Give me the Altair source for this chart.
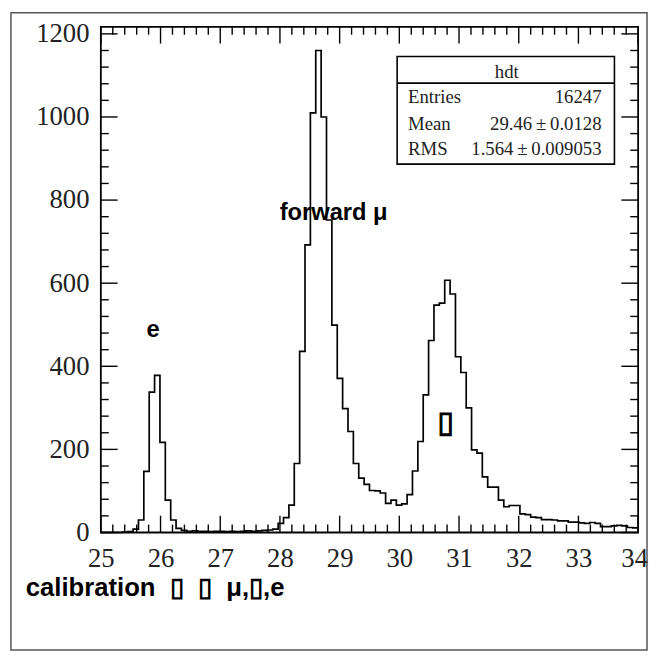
import altair as alt
import pandas as pd

# ---------------- data ----------------
x_lo, x_hi = 25.0, 34.0
n_bins = 100
counts = [
    0, 0, 0, 0, 1, 2, 8, 30, 147, 338,            # 0-9
    378, 217, 78, 30, 10, 5, 3, 4, 3, 3,          # 10-19
    2, 3, 3, 2, 3, 2, 3, 4, 3, 4,                 # 20-29
    5, 6, 8, 22, 36, 66, 166, 436, 692, 1010,     # 30-39
    1160, 1000, 752, 499, 371, 298, 243, 166, 131, 116,  # 40-49
    101, 100, 95, 70, 78, 66, 69, 91, 148, 219,   # 50-59
    331, 462, 547, 552, 607, 574, 423, 385, 300, 199,    # 60-69
    191, 134, 109, 109, 78, 62, 65, 65, 45, 43,   # 70-79
    37, 36, 31, 31, 30, 28, 28, 25, 25, 23,       # 80-89
    22, 24, 22, 14, 14, 16, 17, 16, 12, 11,       # 90-99
]
x_ticks = [25, 26, 27, 28, 29, 30, 31, 32, 33, 34]
y_ticks = [0, 200, 400, 600, 800, 1000, 1200]
y_max = 1217

stat_title = "hdt"
stat_names = ["Entries", "Mean", "RMS"]
stat_values = ["16247", "29.46\u2009\u00b1\u20090.0128", "1.564\u2009\u00b1\u20090.009053"]

annot_text = ["forward \u03bc", "e", "\u25af"]
annot_x = [27.995, 25.877, 30.77]
annot_y = [752, 470, 263]
caption = "calibration\u00a0 \u25af\u00a0 \u25af\u00a0 \u03bc,\u25af,e"

# ---------------- tables ----------------
bin_w = (x_hi - x_lo) / n_bins
edges = [x_lo + i * bin_w for i in range(n_bins)] + [x_hi]
hist_df = pd.DataFrame({"x": edges, "n": counts + [counts[-1]]})

xt_major = pd.DataFrame({"t": x_ticks})
xt_minor = pd.DataFrame({"t": [x_lo + 0.2 * i for i in range(46) if i % 5 != 0]})
yt_major = pd.DataFrame({"t": y_ticks})
yt_minor = pd.DataFrame({"t": [40 * i for i in range(31) if i % 5 != 0]})

W, H = 544, 512
MAJ, MIN = 17, 8

xscale = alt.Scale(domain=[x_lo, x_hi], nice=False, zero=False)
yscale = alt.Scale(domain=[0, y_max], nice=False)

xaxis = alt.Axis(values=x_ticks, ticks=False, domain=False, grid=False,
                 labelFont="Liberation Serif", labelFontSize=27, labelColor="#222",
                 labelPadding=13, labelFlush=False, labelOverlap=False,
                 labelOffset={"condition": {"test": "datum.value == 34", "value": -4},
                              "value": 0},
                 title="", format="d")
yaxis = alt.Axis(values=y_ticks, ticks=False, domain=False, grid=False,
                 labelFont="Liberation Serif", labelFontSize=27, labelColor="#222",
                 labelPadding=12, labelFlush=False, labelOverlap=False,
                 title="", format="d")

hist = alt.Chart(hist_df).mark_line(
    interpolate="step-after", color="black", strokeWidth=1.7
).encode(
    x=alt.X("x:Q", scale=xscale, axis=xaxis),
    y=alt.Y("n:Q", scale=yscale, axis=yaxis),
)


def xrule(df, y0, y1):
    return alt.Chart(df).mark_rule(color="black", strokeWidth=1.4).encode(
        x=alt.X("t:Q", scale=xscale, axis=xaxis), y=alt.value(y0), y2=alt.value(y1))


def yrule(df, x0, x1):
    return alt.Chart(df).mark_rule(color="black", strokeWidth=1.4).encode(
        y=alt.Y("t:Q", scale=yscale, axis=yaxis), x=alt.value(x0), x2=alt.value(x1))


ticks = [
    xrule(xt_major, H, H - MAJ), xrule(xt_minor, H, H - MIN),
    xrule(xt_major, 0, MAJ), xrule(xt_minor, 0, MIN),
    yrule(yt_major, 0, MAJ), yrule(yt_minor, 0, MIN),
    yrule(yt_major, W, W - MAJ), yrule(yt_minor, W, W - MIN),
]

one = pd.DataFrame({"a": [0]})

# stats box
bx0, bx1, by0, by1, bhead = 300, 520, 30, 139, 57
box = alt.Chart(one).mark_rect(fill="white", stroke="black", strokeWidth=1.6).encode(
    x=alt.value(bx0), x2=alt.value(bx1), y=alt.value(by0), y2=alt.value(by1))
head_line = alt.Chart(one).mark_rule(color="black", strokeWidth=1.6).encode(
    x=alt.value(bx0), x2=alt.value(bx1), y=alt.value(bhead))
stat_font = dict(font="Liberation Serif", fontSize=19, color="#222", baseline="alphabetic")
box_texts = [
    alt.Chart(one).mark_text(align="center", **stat_font).encode(
        x=alt.value((bx0 + bx1) / 2 + 1), y=alt.value(52), text=alt.value(stat_title))
]
row_y = [77, 104, 130]
for name, val, ry in zip(stat_names, stat_values, row_y):
    box_texts.append(alt.Chart(one).mark_text(align="left", **stat_font).encode(
        x=alt.value(311), y=alt.value(ry), text=alt.value(name)))
    box_texts.append(alt.Chart(one).mark_text(align="right", **stat_font).encode(
        x=alt.value(507), y=alt.value(ry), text=alt.value(val)))

# annotations in data coordinates
annot_df = pd.DataFrame({"text": annot_text, "x": annot_x, "y": annot_y})
ann_enc = dict(x=alt.X("x:Q", scale=xscale, axis=xaxis),
               y=alt.Y("y:Q", scale=yscale, axis=yaxis), text="text:N")
ann1 = alt.Chart(annot_df.iloc[[0]]).mark_text(
    align="left", baseline="alphabetic", font="Liberation Sans", fontWeight="bold",
    fontSize=24, color="black").encode(**ann_enc)
ann2 = alt.Chart(annot_df.iloc[[1]]).mark_text(
    align="center", baseline="alphabetic", font="Liberation Sans", fontWeight="bold",
    fontSize=24, color="black").encode(**ann_enc)
ann3 = alt.Chart(annot_df.iloc[[2]]).mark_text(
    align="center", baseline="middle", font="DejaVu Sans", fontSize=30,
    color="black", stroke="black", strokeWidth=1.2).encode(**ann_enc)

cap = alt.Chart(one).mark_text(
    align="left", baseline="alphabetic", font="Liberation Sans", fontWeight="bold",
    fontSize=26, color="black").encode(
    x=alt.value(-76), y=alt.value(576), text=alt.value(caption))

outer = alt.Chart(one).mark_rect(fill="transparent", stroke="#555", strokeWidth=1.5).encode(
    x=alt.value(-91), x2=alt.value(553), y=alt.value(-14.2), y2=alt.value(631))

chart = alt.layer(
    outer, hist, *ticks, box, head_line, *box_texts, ann1, ann2, ann3, cap
).properties(
    width=W, height=H,
    autosize=alt.AutoSizeParams(type="none"),
    padding={"left": 94, "top": 15, "right": 11, "bottom": 121},
    background="white",
).configure_view(stroke="black", strokeWidth=1.8)

chart.save("out.html", embed_options={"renderer": "svg", "actions": False})
